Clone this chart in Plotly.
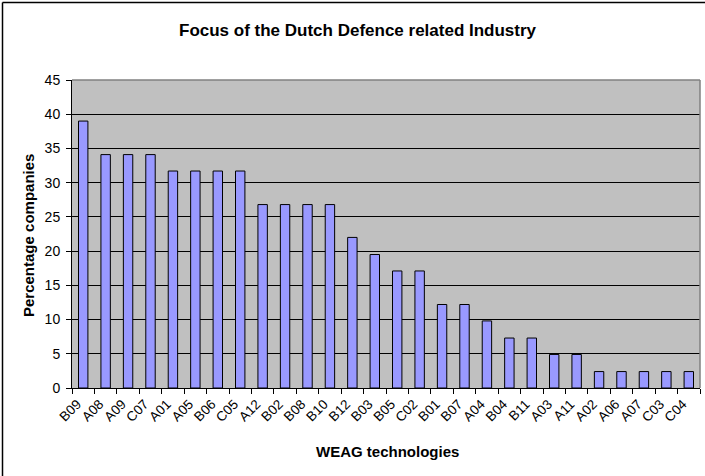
import plotly.graph_objects as go

categories = ["B09", "A08", "A09", "C07", "A01", "A05", "B06", "C05", "A12", "B02",
              "B08", "B10", "B12", "B03", "B05", "C02", "B01", "B07", "A04", "B04",
              "B11", "A03", "A11", "A02", "A06", "A07", "C03", "C04"]
values = [39.0, 34.1, 34.1, 34.1, 31.7, 31.7, 31.7, 31.7, 26.8, 26.8,
          26.8, 26.8, 22.0, 19.5, 17.1, 17.1, 12.2, 12.2, 9.8, 7.3,
          7.3, 4.9, 4.9, 2.4, 2.4, 2.4, 2.4, 2.4]
y_ticks = [0, 5, 10, 15, 20, 25, 30, 35, 40, 45]

title_text = "Focus of the Dutch Defence related Industry"
x_title = "WEAG technologies"
y_title = "Percentage companies"

FONT = "Liberation Sans, Arial, sans-serif"

W, H = 705, 476
L, R, T, B = 72, 5, 80, 88
pw, ph = W - L - R, H - T - B


def px_x(x):
    return (x - L) / pw


def px_y(y):
    return (H - B - y) / ph


positions = list(range(len(categories)))

fig = go.Figure()
fig.add_trace(go.Bar(
    x=positions, y=values,
    marker=dict(color="#9999FF", line=dict(color="black", width=1)),
    width=0.42,
    hovertext=categories,
))

fig.update_layout(
    width=W, height=H,
    margin=dict(l=L, r=R, t=T, b=B),
    paper_bgcolor="white",
    plot_bgcolor="#C0C0C0",
    showlegend=False,
    font=dict(family=FONT, size=14, color="black"),
    xaxis=dict(
        range=[-0.5, len(categories) - 0.5],
        tickmode="array",
        tickvals=positions,
        ticktext=categories,
        tickangle=-45,
        automargin=False,
        ticks="",
        ticklabelshift=-6,
        ticklabelstandoff=2,
        tickfont=dict(family=FONT, size=13.5, color="black"),
        showline=True, linecolor="black", linewidth=1,
        showgrid=False, zeroline=False,
        minor=dict(ticks="outside", ticklen=5, tickcolor="black",
                   tick0=-0.5, dtick=1, showgrid=False),
    ),
    yaxis=dict(
        range=[0, 45],
        tickvals=y_ticks,
        showline=True, linecolor="black", linewidth=1,
        ticks="outside", ticklen=5, tickcolor="black",
        tickfont=dict(family=FONT, size=14, color="black"),
        ticklabelstandoff=3,
        showgrid=True, gridcolor="black", gridwidth=1,
        zeroline=False,
    ),
    annotations=[
        dict(text="<b>" + title_text + "</b>", xref="paper", yref="paper",
             x=px_x(358), y=px_y(31), showarrow=False,
             font=dict(family=FONT, size=17, color="black"),
             xanchor="center", yanchor="middle"),
        dict(text="<b>" + x_title + "</b>", xref="paper", yref="paper",
             x=px_x(387), y=px_y(451), showarrow=False,
             font=dict(family=FONT, size=15, color="black"),
             xanchor="center", yanchor="middle"),
        dict(text="<b>" + y_title + "</b>", xref="paper", yref="paper",
             x=px_x(28), y=px_y(236), showarrow=False, textangle=-90,
             font=dict(family=FONT, size=15, color="black"),
             xanchor="center", yanchor="middle"),
    ],
    shapes=[
        dict(type="line", xref="paper", yref="paper", x0=0, x1=1, y0=1, y1=1,
             line=dict(color="#808080", width=1.5), layer="above"),
        dict(type="line", xref="paper", yref="paper", x0=1, x1=1, y0=0, y1=1,
             line=dict(color="#808080", width=1.5), layer="above"),
        dict(type="line", xref="paper", yref="paper",
             x0=px_x(2.5), x1=px_x(2.5), y0=px_y(H + 2), y1=px_y(2.5),
             line=dict(color="black", width=1.5)),
        dict(type="line", xref="paper", yref="paper",
             x0=px_x(2.5), x1=px_x(W + 2), y0=px_y(2.5), y1=px_y(2.5),
             line=dict(color="black", width=1.5)),
    ],
)

fig.write_html("out.html")
